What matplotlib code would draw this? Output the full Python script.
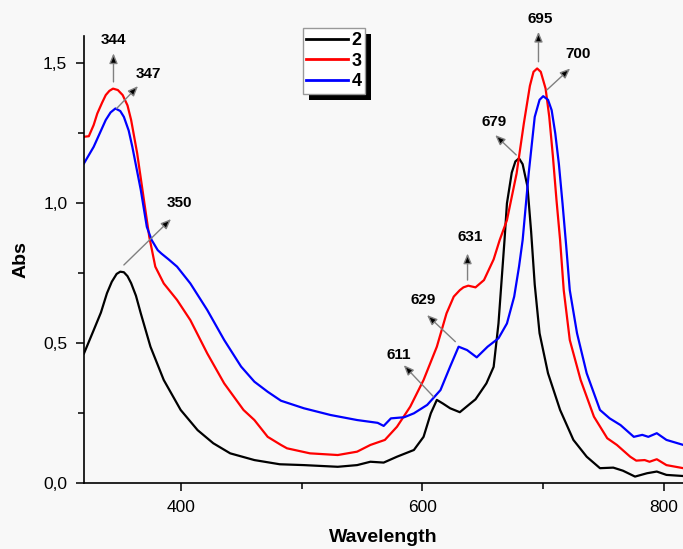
import matplotlib
matplotlib.use("Agg")
import matplotlib.pyplot as plt
from matplotlib.ticker import FixedLocator, FuncFormatter
from matplotlib.patches import Rectangle

plt.rcParams['font.family'] = ['Liberation Sans', 'DejaVu Sans']

# ---- data ----
wl_2 = [320, 328, 334, 339, 343, 347, 350, 353, 356, 359, 363, 367, 375, 386, 400, 414, 427,
        441, 461, 482, 502, 530, 546, 557, 568, 579, 593, 601, 607, 612, 617, 623, 631, 640,
        644, 653, 659, 663, 666, 668, 670, 674, 677, 680, 683, 687, 690, 693, 697, 704, 714,
        725, 736, 747, 758, 766, 776, 786, 794, 802, 816]
abs_2 = [0.464, 0.547, 0.61, 0.679, 0.72, 0.748, 0.756, 0.754, 0.74, 0.715, 0.67, 0.607,
         0.488, 0.369, 0.262, 0.19, 0.143, 0.107, 0.083, 0.068, 0.065, 0.059, 0.065, 0.077,
         0.074, 0.095, 0.119, 0.166, 0.25, 0.298, 0.285, 0.268, 0.254, 0.286, 0.30, 0.357,
         0.416, 0.571, 0.75, 0.869, 1.00, 1.11, 1.15, 1.161, 1.14, 1.06, 0.90, 0.71, 0.536,
         0.393, 0.262, 0.155, 0.095, 0.054, 0.056, 0.045, 0.024, 0.036, 0.042, 0.030, 0.026]

wl_3 = [320, 324, 328, 331, 335, 338, 341, 344, 348, 352, 356, 359, 364, 370, 374, 379, 386,
        397, 408, 422, 436, 452, 461, 472, 483, 488, 507, 530, 546, 557, 569, 579, 590, 601,
        612, 620, 626, 631, 634, 638, 644, 651, 659, 664, 670, 678, 684, 689, 692, 695, 698,
        702, 705, 708, 711, 714, 717, 722, 731, 742, 753, 761, 772, 777, 784, 788, 794, 802,
        816]
abs_3 = [1.238, 1.24, 1.28, 1.321, 1.36, 1.387, 1.402, 1.41, 1.405, 1.387, 1.35, 1.298,
         1.179, 1.0, 0.881, 0.774, 0.714, 0.655, 0.583, 0.464, 0.357, 0.262, 0.226, 0.166,
         0.137, 0.125, 0.107, 0.101, 0.113, 0.137, 0.155, 0.202, 0.274, 0.369, 0.488, 0.607,
         0.667, 0.69, 0.70, 0.706, 0.70, 0.726, 0.80, 0.869, 0.94, 1.107, 1.286, 1.42, 1.47,
         1.482, 1.47, 1.41, 1.31, 1.17, 1.012, 0.869, 0.69, 0.512, 0.369, 0.238, 0.161, 0.137,
         0.095, 0.081, 0.083, 0.077, 0.086, 0.065, 0.054]

wl_4 = [320, 328, 333, 338, 342, 346, 350, 353, 357, 360, 367, 372, 376, 381, 384, 390, 397,
        408, 422, 436, 450, 461, 472, 483, 502, 524, 546, 563, 568, 574, 585, 593, 604, 615,
        623, 630, 637, 645, 654, 663, 670, 676, 680, 683, 688, 693, 697, 700, 704, 707, 710,
        713, 716, 719, 722, 728, 736, 747, 755, 764, 775, 782, 787, 794, 802, 816]
abs_4 = [1.143, 1.202, 1.25, 1.298, 1.325, 1.339, 1.33, 1.309, 1.26, 1.202, 1.048, 0.916,
         0.869, 0.833, 0.821, 0.80, 0.774, 0.714, 0.619, 0.512, 0.417, 0.363, 0.327, 0.295,
         0.268, 0.244, 0.226, 0.216, 0.205, 0.232, 0.236, 0.25, 0.28, 0.333, 0.417, 0.488,
         0.476, 0.45, 0.488, 0.518, 0.571, 0.667, 0.774, 0.869, 1.107, 1.309, 1.37, 1.383,
         1.37, 1.333, 1.25, 1.14, 1.0, 0.85, 0.69, 0.536, 0.393, 0.262, 0.232, 0.208, 0.166,
         0.173, 0.166, 0.179, 0.155, 0.137]

series_labels = ['2', '3', '4']
series_colors = ['black', '#ff0000', '#0000ff']

# peak annotations: label, text position, arrow tail, arrow head
peak_labels = ['344', '347', '350', '611', '629', '631', '679', '695', '700']
peak_text = [(344.4, 1.583), (373.2, 1.464), (398.6, 1.0), (580.4, 0.458), (601, 0.655),
             (639.7, 0.881), (659, 1.291), (697.5, 1.657), (729.2, 1.533)]
peak_tail = [(344.4, 1.434), (347, 1.339), (353, 0.78), (609.3, 0.309), (627.3, 0.506),
             (637.4, 0.726), (677.7, 1.173), (696.1, 1.506), (703, 1.405)]
peak_head = [(344.4, 1.536), (364.7, 1.419), (392, 0.944), (584.6, 0.422), (603.9, 0.601),
             (637.4, 0.821), (660.3, 1.244), (696.1, 1.613), (722.3, 1.482)]

y_ticks = [0.0, 0.5, 1.0, 1.5]
y_minor = [0.25, 0.75, 1.25]
x_ticks = [400, 600, 800]
x_minor = [500, 700]

# ---- figure ----
fig = plt.figure(figsize=(6.83, 5.49), dpi=100, facecolor='#f8f8f8')
ax = fig.add_axes([84 / 683, 1 - 483.3 / 549, 1 - 84 / 683, (483.3 - 36) / 549])
ax.set_facecolor('#f8f8f8')

for wl, a, lab, col in zip([wl_2, wl_3, wl_4], [abs_2, abs_3, abs_4], series_labels, series_colors):
    ax.plot(wl, a, color=col, lw=1.6, label=lab, solid_joinstyle='round')

ax.set_xlim(320, 815.7)
ax.set_ylim(0, 1.598)

for s in ['top', 'right']:
    ax.spines[s].set_visible(False)
for s in ['left', 'bottom']:
    ax.spines[s].set_linewidth(1.2)

ax.xaxis.set_major_locator(FixedLocator(x_ticks))
ax.xaxis.set_minor_locator(FixedLocator(x_minor))
ax.yaxis.set_major_locator(FixedLocator(y_ticks))
ax.yaxis.set_minor_locator(FixedLocator(y_minor))
ax.yaxis.set_major_formatter(FuncFormatter(lambda v, p: f"{v:.1f}".replace('.', ',')))
ax.tick_params(which='major', direction='out', length=6, width=1.1, labelsize=12.5, pad=6)
ax.tick_params(which='minor', direction='out', length=4, width=1.1)

ax.set_xlabel('Wavelength', fontsize=14, fontweight='bold', labelpad=10)
ax.set_ylabel('Abs', fontsize=14, fontweight='bold', labelpad=10)

for lab, t, tail, head in zip(peak_labels, peak_text, peak_tail, peak_head):
    ax.annotate('', xy=head, xytext=tail,
                arrowprops=dict(arrowstyle='-|>,head_length=0.6,head_width=0.25',
                                edgecolor='#808080', facecolor='black', lw=1.0,
                                shrinkA=0, shrinkB=0),
                annotation_clip=False)
    ax.text(t[0], t[1], lab, ha='center', va='center', fontsize=11,
            fontweight='bold', clip_on=False)

leg = ax.legend(loc='upper left', bbox_to_anchor=(302.7 / 683, 1 - 28.3 / 549),
                bbox_transform=fig.transFigure, borderaxespad=0, fancybox=False,
                frameon=True, edgecolor='#999999', facecolor='white', framealpha=1,
                handlelength=2.3, handletextpad=0.2, labelspacing=0.2,
                borderpad=0.2, prop={'weight': 'bold', 'size': 13})
leg.get_frame().set_linewidth(1.0)
for line in leg.get_lines():
    line.set_linewidth(2.0)
leg.set_zorder(10)

fig.canvas.draw()
bb = leg.get_window_extent()
inv = fig.transFigure.inverted()
(x0, y0), (x1, y1) = inv.transform([(bb.x0 + 6, bb.y0 - 6), (bb.x1 + 6, bb.y1 - 6)])
shadow = Rectangle((x0, y0), x1 - x0, y1 - y0, transform=fig.transFigure,
                   facecolor='black', edgecolor='none', zorder=9, clip_on=False)
ax.add_artist(shadow)

fig.savefig('out.png', dpi=100, facecolor=fig.get_facecolor())
